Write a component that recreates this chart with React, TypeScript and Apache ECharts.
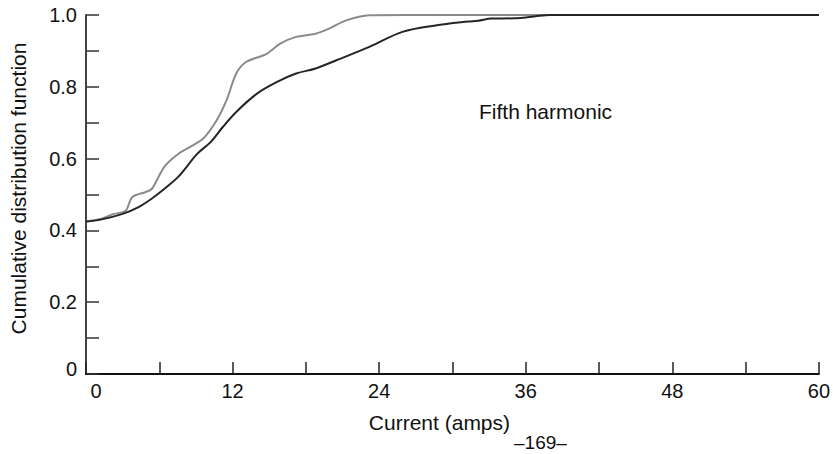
import React, { useEffect, useRef } from "react";
import * as echarts from "echarts";

const grayX = [0, 1.1, 2.2, 3.0, 3.3, 3.8, 4.9, 5.4, 6.0, 6.5, 7.6, 8.5, 9.6, 10.7, 11.5, 12.3, 13.1, 14.8, 15.9, 17.2, 18.8, 19.9, 21.3, 23.2, 26, 60];
const grayY = [0.425, 0.431, 0.445, 0.451, 0.456, 0.493, 0.507, 0.516, 0.553, 0.581, 0.614, 0.632, 0.656, 0.707, 0.762, 0.837, 0.869, 0.892, 0.920, 0.939, 0.948, 0.962, 0.985, 0.999, 1.0, 1.0];

const blackX = [0, 1.2, 3.0, 4.3, 5.4, 6.5, 7.6, 9.1, 10.2, 11.2, 12.3, 14.0, 15.6, 17.2, 18.8, 20.5, 23.2, 25.9, 28.6, 31.3, 32.1, 33.2, 35.1, 36.7, 38, 60];
const blackY = [0.425, 0.430, 0.446, 0.465, 0.489, 0.518, 0.551, 0.613, 0.646, 0.688, 0.730, 0.781, 0.813, 0.837, 0.851, 0.874, 0.911, 0.953, 0.971, 0.982, 0.984, 0.990, 0.991, 0.996, 1.0, 1.0];

const xLabelValues = [0, 12, 24, 36, 48, 60];
const yLabelValues = [0, 0.2, 0.4, 0.6, 0.8, 1.0];

const FONT = "'Liberation Sans', Arial, Helvetica, sans-serif";

export default function App() {
  const ref = useRef<HTMLDivElement>(null);
  useEffect(() => {
    if (!ref.current) return;
    const chart = echarts.init(ref.current, null, { renderer: "svg" });
    const pair = (xs: number[], ys: number[]) => xs.map((x, i) => [x, ys[i]]);
    chart.setOption({
      animation: false,
      backgroundColor: "#ffffff",
      grid: { left: 82, right: 13, top: 15, bottom: 80, containLabel: false },
      xAxis: {
        type: "value",
        min: 0,
        max: 60,
        interval: 6,
        name: "Current (amps)",
        nameLocation: "middle",
        nameGap: 38,
        nameTextStyle: { fontFamily: FONT, fontSize: 21, color: "#111", padding: [0, 26, 0, 0] },
        axisLine: { lineStyle: { color: "#111", width: 2 } },
        axisTick: { inside: true, length: 12, lineStyle: { color: "#222", width: 1.5 } },
        splitLine: { show: false },
        axisLabel: {
          margin: 7,
          fontFamily: FONT,
          fontSize: 20,
          color: "#111",
          formatter: (v: number) => {
            if (!xLabelValues.includes(v)) return "";
            return v === 0 ? "{z|0}" : String(v);
          },
          rich: { z: { fontFamily: FONT, fontSize: 20, color: "#111", padding: [0, 0, 0, 20] } },
        },
      },
      yAxis: {
        type: "value",
        min: 0,
        max: 1,
        interval: 0.1,
        name: "Cumulative distribution function",
        nameLocation: "middle",
        nameGap: 57,
        nameTextStyle: { fontFamily: FONT, fontSize: 21, color: "#111", padding: [0, 0, 0, 12] },
        axisLine: { show: true, lineStyle: { color: "#444", width: 2 } },
        axisTick: { inside: true, length: 13, lineStyle: { color: "#333", width: 1.5 } },
        splitLine: { show: false },
        axisLabel: {
          margin: 9,
          fontFamily: FONT,
          fontSize: 20,
          color: "#111",
          formatter: (v: number) => {
            const r = Math.round(v * 10) / 10;
            if (!yLabelValues.some((t) => Math.abs(t - r) < 1e-6)) return "";
            if (r === 0) return "{z|0}";
            return r.toFixed(1);
          },
          rich: { z: { fontFamily: FONT, fontSize: 20, color: "#111", padding: [0, 0, 10, 0] } },
        },
      },
      series: [
        {
          type: "line",
          data: pair(grayX, grayY),
          smooth: 0.3,
          showSymbol: false,
          clip: false,
          lineStyle: { color: "#8a8a8a", width: 2 },
          z: 2,
        },
        {
          type: "line",
          data: pair(blackX, blackY),
          smooth: 0.35,
          showSymbol: false,
          clip: false,
          lineStyle: { color: "#252525", width: 2 },
          z: 3,
        },
      ],
      graphic: [
        {
          type: "text",
          left: 479,
          top: 101,
          style: { text: "Fifth harmonic", fontFamily: FONT, fontSize: 21, fill: "#111" },
        },
        {
          type: "text",
          left: 514,
          top: 433,
          style: { text: "–169–", fontFamily: FONT, fontSize: 19, fill: "#111" },
        },
      ],
    });
    return () => chart.dispose();
  }, []);
  return (
    <div
      ref={ref}
      style={{ position: "absolute", left: 0, top: 0, width: 833, height: 454 }}
    />
  );
}
